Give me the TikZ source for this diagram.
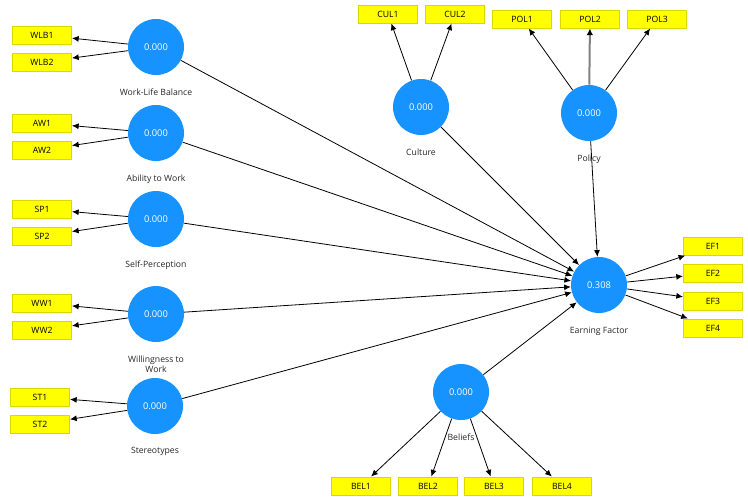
\documentclass[tikz,border=0pt]{standalone}
\usepackage{fontspec}
\setmainfont{Open Sans}
\usetikzlibrary{arrows.meta,positioning}
\definecolor{lvblue}{RGB}{23,147,255}
\definecolor{mvyellow}{RGB}{255,255,0}
\definecolor{mvedge}{RGB}{222,214,0}

\begin{document}
\begin{tikzpicture}[x=0.75pt, y=-0.75pt, font=\fontsize{6.5}{7.8}\selectfont]
    % Define styles
    \tikzstyle{latent} = [circle, fill=lvblue, text=white, minimum size=42pt, inner sep=0pt, font=\fontsize{7}{8}\selectfont]
    \tikzstyle{indicator} = [rectangle, draw=mvedge, line width=0.75pt, fill=mvyellow, minimum width=44.25pt, minimum height=13.5pt, inner sep=0pt]
    \tikzstyle{caption} = [text=black!85, align=center]
    \tikzstyle{arrow} = [-{Latex[length=5pt,width=4.5pt]}, line width=0.6pt]
    \useasboundingbox (0,0) rectangle (748,501);

    % Draw latent variables
    \node[latent] (wlb) at (156,47) {0.000};
    \node[latent] (aw) at (156,133) {0.000};
    \node[latent] (sp) at (156,219) {0.000};
    \node[latent] (ww) at (156,314) {0.000};
    \node[latent] (st) at (155,406) {0.000};
    \node[latent] (cul) at (421,107) {0.000};
    \node[latent] (pol) at (589,113) {0.000};
    \node[latent] (ef) at (599,285) {0.308};
    \node[latent] (bel) at (461,392) {0.000};

    % Names below the circles
    \node[caption, below=6.5pt of wlb] (wlbname) {Work-Life Balance};
    \node[caption, below=6.5pt of aw] (awname) {Ability to Work};
    \node[caption, below=6.5pt of sp] (spname) {Self-Perception};
    \node[caption, below=6.5pt of ww] (wwname) {Willingness to\\Work};
    \node[caption, below=6.5pt of st] (stname) {Stereotypes};
    \node[caption, below=6.5pt of cul] (culname) {Culture};
    \node[caption, below=6.5pt of pol] (polname) {Policy};
    \node[caption, below=6.5pt of ef] (efname) {Earning Factor};
    \node[caption, below=6.5pt of bel] (belname) {Beliefs};

    % Draw indicators
    \node[indicator] (wlb1) at (42,35) {WLB1};
    \node[indicator] (wlb2) at (42,62) {WLB2};
    \node[indicator] (aw1) at (42,123) {AW1};
    \node[indicator] (aw2) at (42,150) {AW2};
    \node[indicator] (sp1) at (42,209) {SP1};
    \node[indicator] (sp2) at (42,236) {SP2};
    \node[indicator] (ww1) at (42,303) {WW1};
    \node[indicator] (ww2) at (42,330) {WW2};
    \node[indicator] (st1) at (40,397) {ST1};
    \node[indicator] (st2) at (40,424) {ST2};
    \node[indicator] (cul1) at (388,14) {CUL1};
    \node[indicator] (cul2) at (455,14) {CUL2};
    \node[indicator] (pol1) at (522,19) {POL1};
    \node[indicator] (pol2) at (590,19) {POL2};
    \node[indicator] (pol3) at (657,19) {POL3};
    \node[indicator] (ef1) at (713,246) {EF1};
    \node[indicator] (ef2) at (713,273) {EF2};
    \node[indicator] (ef3) at (713,301) {EF3};
    \node[indicator] (ef4) at (713,328) {EF4};
    \node[indicator] (bel1) at (361,486) {BEL1};
    \node[indicator] (bel2) at (428,486) {BEL2};
    \node[indicator] (bel3) at (494,486) {BEL3};
    \node[indicator] (bel4) at (562,486) {BEL4};

    % Loadings
    \draw[arrow] (wlb) -- (wlb1);
    \draw[arrow] (wlb) -- (wlb2);
    \draw[arrow] (aw) -- (aw1);
    \draw[arrow] (aw) -- (aw2);
    \draw[arrow] (sp) -- (sp1);
    \draw[arrow] (sp) -- (sp2);
    \draw[arrow] (ww) -- (ww1);
    \draw[arrow] (ww) -- (ww2);
    \draw[arrow] (st) -- (st1);
    \draw[arrow] (st) -- (st2);
    \draw[arrow] (cul) -- (cul1);
    \draw[arrow] (cul) -- (cul2);
    \draw[arrow] (pol) -- (pol1);
    \draw[-{Latex[length=5pt,width=5pt,black]}, draw=black!50, line width=1.5pt] (pol) -- (pol2);
    \draw[arrow] (pol) -- (pol3);
    \draw[arrow] (ef) -- (ef1);
    \draw[arrow] (ef) -- (ef2);
    \draw[arrow] (ef) -- (ef3);
    \draw[arrow] (ef) -- (ef4);
    \draw[arrow] (bel) -- (bel1);
    \draw[arrow] (bel) -- (bel2);
    \draw[arrow] (bel) -- (bel3);
    \draw[arrow] (bel) -- (bel4);

    % Paths to the earning factor
    \draw[arrow] (wlb) -- (ef);
    \draw[arrow] (aw) -- (ef);
    \draw[arrow] (sp) -- (ef);
    \draw[arrow] (ww) -- (ef);
    \draw[arrow] (st) -- (ef);
    \draw[arrow] (cul) -- (ef);
    \draw[arrow] (pol) -- (ef);
    \draw[arrow] (bel) -- (ef);
\end{tikzpicture}
\end{document}
